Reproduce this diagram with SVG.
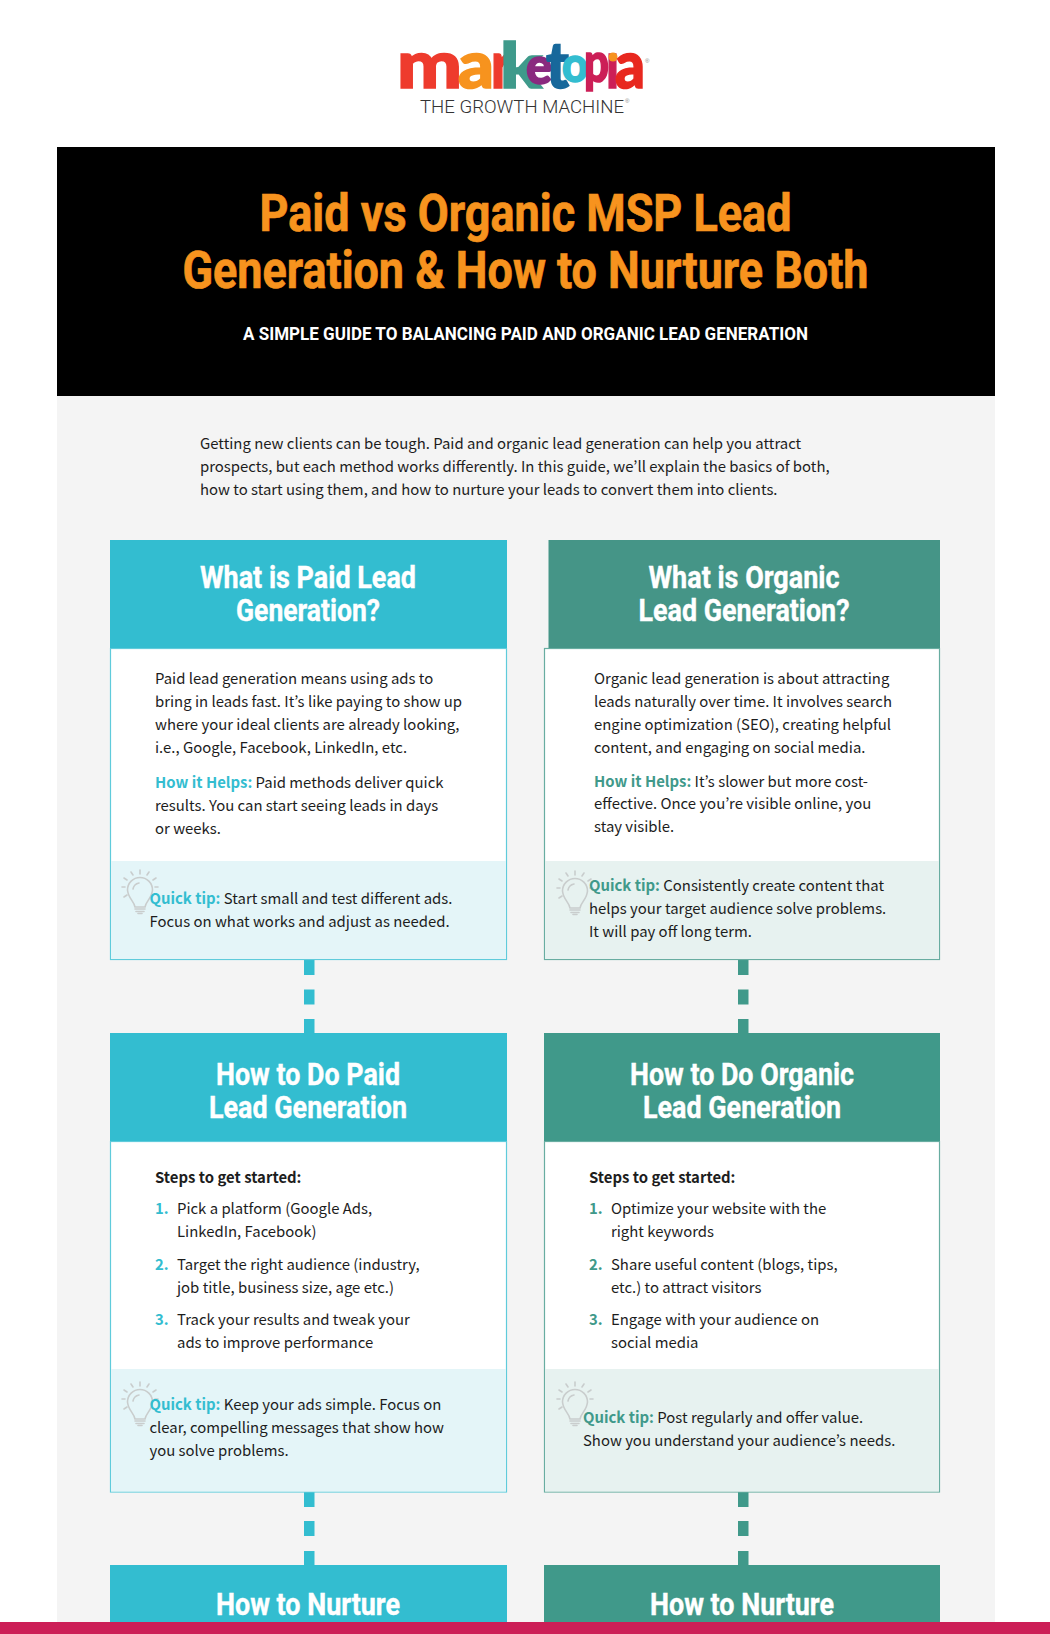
<svg xmlns="http://www.w3.org/2000/svg" width="1050" height="1634" viewBox="0 0 1050 1634">
<style>
text{font-family:"Noto Sans CJK KR","Noto Sans",sans-serif;font-size:14.9px;fill:#1d1d1d}
.h{font-family:Roboto,"Liberation Sans",sans-serif;font-weight:700;font-size:31px;fill:#fff;stroke:#fff;stroke-width:.4;text-anchor:middle}
.t{font-family:Roboto,"Liberation Sans",sans-serif;font-weight:700;font-size:51px;fill:#f7931e;stroke:#f7931e;stroke-width:.7;text-anchor:middle}
.s{font-family:Roboto,"Liberation Sans",sans-serif;font-weight:700;font-size:19px;fill:#fff;text-anchor:middle}
.b{font-weight:700}
.c{fill:#33bdd0}.g{fill:#40998a}
.lg{font-family:Lato,"Liberation Sans",sans-serif;font-weight:900;font-size:66px;stroke-width:1.6}
.tm{font-family:Roboto,"Liberation Sans",sans-serif;font-weight:300;font-size:19px;fill:#333}
.r{font-family:"Liberation Sans",sans-serif;font-size:6px;fill:#888}
.bc{fill:#fff;stroke:#5fcbdb;stroke-width:1.2}.bg{fill:#fff;stroke:#68ada1;stroke-width:1.2}
.tc{fill:#e4f5f8}.tg{fill:#e7f2f0}
.bulb{fill:none;stroke:#c9cdcd;stroke-width:1.6;stroke-linecap:round}
</style>
<defs>
<g id="bulb" class="bulb">
<path d="M-5 17C-6 11-12 8-12.500 0A12.500 12.500 0 1 1 12.500 0C12 8 6 11 5 17Z"/>
<path d="M-5 19H5M-4 21.500H4M-2 23.500H2M-7 -1A7.500 7.500 0 0 1 -1 -7"/>
<path d="M0 -20V-16M-9 -18L-7 -15M9 -18L7 -15M-16 -12L-13 -10M16 -12L13 -10M-18 -3H-15M18 -3H15M-16 7L-13 5"/>
</g>
</defs>
<rect width="1050" height="1634" fill="#fff"/>
<rect x="57" y="396" width="938" height="1226" fill="#f4f4f4"/>

<g id="logo">
<text class="lg" x="397" y="88" textLength="65" lengthAdjust="spacingAndGlyphs" style="fill:#ee3b2d;stroke:#ee3b2d">m</text>
<text class="lg" x="458" y="88" textLength="36" lengthAdjust="spacingAndGlyphs" style="fill:#f7931e;stroke:#f7931e">a</text>
<text class="lg" x="491" y="88" textLength="21" lengthAdjust="spacingAndGlyphs" style="fill:#ee3b2d;stroke:#ee3b2d">r</text>
<text class="lg" x="500" y="88" textLength="42" lengthAdjust="spacingAndGlyphs" style="fill:#3f9a8b;stroke:#3f9a8b;font-size:63px">k</text>
<text class="lg" x="526" y="84" textLength="26" lengthAdjust="spacingAndGlyphs" style="fill:#8a2a7f;stroke:#8a2a7f;font-size:52px">e</text>
<text class="lg" x="546" y="88" textLength="23" lengthAdjust="spacingAndGlyphs" style="fill:#17689b;stroke:#17689b;font-size:64px">t</text>
<text class="lg" x="562" y="82" textLength="26" lengthAdjust="spacingAndGlyphs" style="fill:#33bdd0;stroke:#33bdd0;font-size:50px">o</text>
<text class="lg" x="584" y="82" textLength="25" lengthAdjust="spacingAndGlyphs" style="fill:#cc1f57;stroke:#cc1f57;font-size:56px">p</text>
<text class="lg" x="606" y="88" textLength="13" lengthAdjust="spacingAndGlyphs" style="fill:#cc1f57;stroke:#cc1f57">ı</text>
<circle cx="613" cy="57" r="4.500" fill="#f7931e"/>
<text class="lg" x="615" y="88" textLength="30" lengthAdjust="spacingAndGlyphs" style="fill:#e8281f;stroke:#e8281f">a</text>
<text class="r" x="645" y="63">®</text>
<text class="tm" x="420" y="113" textLength="204" lengthAdjust="spacingAndGlyphs">THE GROWTH MACHINE</text>
<text class="r" x="625" y="103">®</text>
</g>

<g id="banner">
<rect x="57" y="147" width="938" height="249" fill="#000"/>
<text class="t" x="525.500" y="231" textLength="532" lengthAdjust="spacingAndGlyphs">Paid vs Organic MSP Lead</text>
<text class="t" x="525.500" y="288" textLength="686" lengthAdjust="spacingAndGlyphs">Generation &amp; How to Nurture Both</text>
<text class="s" x="525.500" y="340" textLength="565" lengthAdjust="spacingAndGlyphs">A SIMPLE GUIDE TO BALANCING PAID AND ORGANIC LEAD GENERATION</text>
</g>

<g id="intro">
<text x="200" y="449">Getting new clients can be tough. Paid and organic lead generation can help you attract</text>
<text x="200" y="472">prospects, but each method works differently. In this guide, we’ll explain the basics of both,</text>
<text x="200" y="495">how to start using them, and how to nurture your leads to convert them into clients.</text>
</g>

<g id="connectors">
<rect class="c" x="304" y="960" width="10.500" height="15"/><rect class="c" x="304" y="989.500" width="10.500" height="15"/><rect class="c" x="304" y="1019" width="10.500" height="15"/>
<rect class="g" x="738" y="960" width="10.500" height="15"/><rect class="g" x="738" y="989.500" width="10.500" height="15"/><rect class="g" x="738" y="1019" width="10.500" height="15"/>
<rect class="c" x="304" y="1492" width="10.500" height="15"/><rect class="c" x="304" y="1521" width="10.500" height="15"/><rect class="c" x="304" y="1551" width="10.500" height="15"/>
<rect class="g" x="738" y="1492" width="10.500" height="15"/><rect class="g" x="738" y="1521" width="10.500" height="15"/><rect class="g" x="738" y="1551" width="10.500" height="15"/>
</g>

<g id="paid-what">
<rect class="bc" x="110.500" y="648.500" width="396" height="311"/>
<rect class="tc" x="111" y="861" width="395" height="98"/>
<rect class="c" x="110" y="540" width="397" height="108"/>
<text class="h" x="308" y="588" textLength="216" lengthAdjust="spacingAndGlyphs">What is Paid Lead</text>
<text class="h" x="308" y="621" textLength="144" lengthAdjust="spacingAndGlyphs">Generation?</text>
<text x="155" y="684">Paid lead generation means using ads to</text>
<text x="155" y="707">bring in leads fast. It’s like paying to show up</text>
<text x="155" y="730">where your ideal clients are already looking,</text>
<text x="155" y="753">i.e., Google, Facebook, LinkedIn, etc.</text>
<text x="155" y="788"><tspan class="b c">How it Helps:</tspan> Paid methods deliver quick</text>
<text x="155" y="811">results. You can start seeing leads in days</text>
<text x="155" y="834">or weeks.</text>
<use href="#bulb" x="140" y="890"/>
<text x="149.500" y="904"><tspan class="b c">Quick tip:</tspan> Start small and test different ads.</text>
<text x="149.500" y="927">Focus on what works and adjust as needed.</text>
</g>

<g id="organic-what">
<rect class="bg" x="544.500" y="648.500" width="395" height="311"/>
<rect class="tg" x="545" y="861" width="394" height="98"/>
<rect x="548.500" y="540" width="391.500" height="108" fill="#459587"/>
<text class="h" x="744" y="588" textLength="191" lengthAdjust="spacingAndGlyphs">What is Organic</text>
<text class="h" x="744" y="621" textLength="211" lengthAdjust="spacingAndGlyphs">Lead Generation?</text>
<text x="594" y="684">Organic lead generation is about attracting</text>
<text x="594" y="707">leads naturally over time. It involves search</text>
<text x="594" y="730">engine optimization (SEO), creating helpful</text>
<text x="594" y="753">content, and engaging on social media.</text>
<text x="594" y="786.500"><tspan class="b g">How it Helps:</tspan> It’s slower but more cost-</text>
<text x="594" y="809">effective. Once you’re visible online, you</text>
<text x="594" y="832">stay visible.</text>
<use href="#bulb" x="575" y="891"/>
<text x="589" y="891"><tspan class="b g">Quick tip:</tspan> Consistently create content that</text>
<text x="589" y="914">helps your target audience solve problems.</text>
<text x="589" y="937">It will pay off long term.</text>
</g>

<g id="paid-how">
<rect class="bc" x="110.500" y="1141.500" width="396" height="350.500"/>
<rect class="tc" x="111" y="1369" width="395" height="122.500"/>
<rect class="c" x="110" y="1033" width="397" height="108"/>
<text class="h" x="308" y="1085" textLength="184" lengthAdjust="spacingAndGlyphs">How to Do Paid</text>
<text class="h" x="308" y="1118" textLength="198" lengthAdjust="spacingAndGlyphs">Lead Generation</text>
<text class="b" x="155" y="1183">Steps to get started:</text>
<text class="b c" x="155" y="1214">1.</text><text x="177" y="1214">Pick a platform (Google Ads,</text><text x="177" y="1237">LinkedIn, Facebook)</text>
<text class="b c" x="155" y="1270">2.</text><text x="177" y="1270">Target the right audience (industry,</text><text x="177" y="1293">job title, business size, age etc.)</text>
<text class="b c" x="155" y="1325">3.</text><text x="177" y="1325">Track your results and tweak your</text><text x="177" y="1348">ads to improve performance</text>
<use href="#bulb" x="140" y="1402"/>
<text x="149.500" y="1410"><tspan class="b c">Quick tip:</tspan> Keep your ads simple. Focus on</text>
<text x="149.500" y="1433">clear, compelling messages that show how</text>
<text x="149.500" y="1456">you solve problems.</text>
</g>

<g id="organic-how">
<rect class="bg" x="544.500" y="1141.500" width="395" height="350.500"/>
<rect class="tg" x="545" y="1369" width="394" height="122.500"/>
<rect class="g" x="544" y="1033" width="396" height="108"/>
<text class="h" x="742" y="1085" textLength="224" lengthAdjust="spacingAndGlyphs">How to Do Organic</text>
<text class="h" x="742" y="1118" textLength="198" lengthAdjust="spacingAndGlyphs">Lead Generation</text>
<text class="b" x="589" y="1183">Steps to get started:</text>
<text class="b g" x="589" y="1214">1.</text><text x="611" y="1214">Optimize your website with the</text><text x="611" y="1237">right keywords</text>
<text class="b g" x="589" y="1270">2.</text><text x="611" y="1270">Share useful content (blogs, tips,</text><text x="611" y="1293">etc.) to attract visitors</text>
<text class="b g" x="589" y="1325">3.</text><text x="611" y="1325">Engage with your audience on</text><text x="611" y="1348">social media</text>
<use href="#bulb" x="575" y="1402"/>
<text x="583" y="1423"><tspan class="b g">Quick tip:</tspan> Post regularly and offer value.</text>
<text x="583" y="1446">Show you understand your audience’s needs.</text>
</g>

<g id="paid-nurture">
<rect class="c" x="110" y="1565" width="397" height="60"/>
<text class="h" x="308" y="1615" textLength="184" lengthAdjust="spacingAndGlyphs">How to Nurture</text>
</g>
<g id="organic-nurture">
<rect class="g" x="544" y="1565" width="396" height="60"/>
<text class="h" x="742" y="1615" textLength="184" lengthAdjust="spacingAndGlyphs">How to Nurture</text>
</g>
<rect id="footer" y="1622" width="1050" height="12" fill="#cc1f57"/>
</svg>
